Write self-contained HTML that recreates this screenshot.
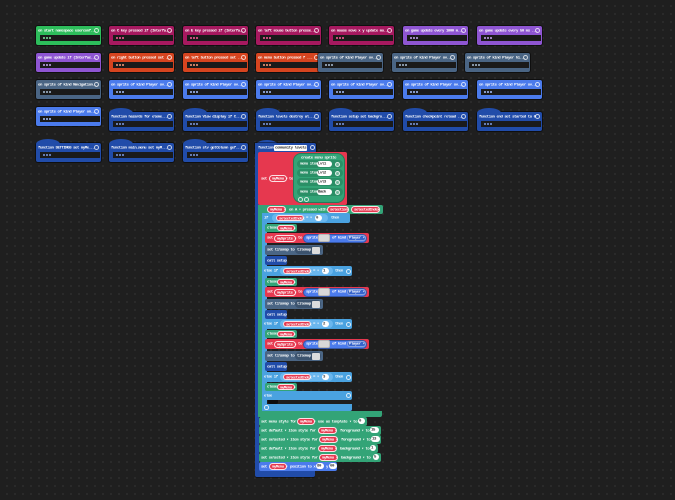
<!DOCTYPE html>
<html><head><meta charset="utf-8"><style>
*{margin:0;padding:0;box-sizing:border-box}
html,body{width:675px;height:500px;overflow:hidden}
body{position:relative;background:#1f1f1f;background-image:radial-gradient(circle,#313131 0.7px,transparent 1px);background-size:8px 8px;background-position:3px 2px;font-family:"Liberation Mono",monospace;font-weight:bold;color:#fff}
div,i,b{position:absolute;font-style:normal;display:block}
.tx{font-size:8px;letter-spacing:-0.9px;line-height:8px;white-space:nowrap;color:#fff;transform:scale(.5);transform-origin:0 0}
.b{width:65px;height:19px;border-radius:2px;box-shadow:0 0 0 1px rgba(0,0,0,.5)}
.b>.tx{left:2px;top:2.6px}
.b>.x{right:2px;top:2px;width:5px;height:5px;border-radius:50%;border:0.8px solid rgba(255,255,255,.75)}
.b>.s{left:4px;right:1px;top:9px;height:6px;background:#1a1a1a}
.b>.s>.d{left:3px;top:2px;width:2px;height:2px;border-radius:50%;background:currentColor;box-shadow:3px 0 0 currentColor,6px 0 0 currentColor}
.b>.h{left:0;top:-4px;width:24px;height:6px;border-radius:12px 12px 0 0/5px 5px 0 0;background:inherit}
.G{background:#2dbd5b;color:#7fe8a0}
.M{background:#a6195f;color:#ff5c9c}
.P{background:#8e55d2;color:#c9a6f5}
.O{background:#d6441f;color:#ff9a7a}
.S{background:#4a6584;color:#a9bdd4}
.B{background:#4b7bec;color:#a6c0ff}
.F{background:#214ca9;color:#7e9be6}
.g{background:#33a477}
.r{background:#e6384f}
.l{background:#4aa2e0}
.pl{border-radius:4px;border:0.6px solid rgba(255,255,255,.85);background:#e6384f}
.pl>.tx{left:1.5px;top:1px}
.wc{background:#fff;border-radius:3.5px;height:6px}
.wc>.tx{color:#333;left:1.2px;top:1px}
.ci{width:5px;height:5px;border-radius:50%;border:0.7px solid rgba(255,255,255,.8)}
</style></head><body>

<!-- Row 1 -->
<div class="b G" style="left:36px;top:26px"><i class="tx">on start namespace userconf...</i><b class="x"></b><div class="s"><b class="d"></b></div></div>
<div class="b M" style="left:109px;top:26px"><i class="tx">on C key pressed if (Interfa...</i><b class="x"></b><div class="s"><b class="d"></b></div></div>
<div class="b M" style="left:183px;top:26px"><i class="tx">on E key pressed if (Interfa...</i><b class="x"></b><div class="s"><b class="d"></b></div></div>
<div class="b M" style="left:256px;top:26px"><i class="tx">on left mouse button presse...</i><b class="x"></b><div class="s"><b class="d"></b></div></div>
<div class="b M" style="left:329px;top:26px"><i class="tx">on mouse move x y update mo...</i><b class="x"></b><div class="s"><b class="d"></b></div></div>
<div class="b P" style="left:403px;top:26px"><i class="tx">on game update every 1000 m...</i><b class="x"></b><div class="s"><b class="d"></b></div></div>
<div class="b P" style="left:477px;top:26px"><i class="tx">on game update every 50 ms ...</i><b class="x"></b><div class="s"><b class="d"></b></div></div>

<!-- Row 2 -->
<div class="b P" style="left:36px;top:53px"><i class="tx">on game update if (Interfac...</i><b class="x"></b><div class="s"><b class="d"></b></div></div>
<div class="b O" style="left:109px;top:53px"><i class="tx">on right button pressed set ...</i><b class="x"></b><div class="s"><b class="d"></b></div></div>
<div class="b O" style="left:183px;top:53px"><i class="tx">on left button pressed set ...</i><b class="x"></b><div class="s"><b class="d"></b></div></div>
<div class="b O" style="left:256px;top:53px"><i class="tx">on menu button pressed f ...</i><b class="x"></b><div class="s"><b class="d"></b></div></div>
<div class="b S" style="left:318px;top:53px"><i class="tx">on sprite of kind Player ov...</i><b class="x"></b><div class="s"><b class="d"></b></div></div>
<div class="b S" style="left:392px;top:53px"><i class="tx">on sprite of kind Player ov...</i><b class="x"></b><div class="s"><b class="d"></b></div></div>
<div class="b S" style="left:465px;top:53px"><i class="tx">on sprite of kind Player hi...</i><b class="x"></b><div class="s"><b class="d"></b></div></div>

<!-- Row 3 -->
<div class="b S" style="left:36px;top:80px"><i class="tx">on sprite of kind Navigation...</i><b class="x"></b><div class="s"><b class="d"></b></div></div>
<div class="b B" style="left:109px;top:80px"><i class="tx">on sprite of kind Player ov...</i><b class="x"></b><div class="s"><b class="d"></b></div></div>
<div class="b B" style="left:183px;top:80px"><i class="tx">on sprite of kind Player ov...</i><b class="x"></b><div class="s"><b class="d"></b></div></div>
<div class="b B" style="left:256px;top:80px"><i class="tx">on sprite of kind Player ov...</i><b class="x"></b><div class="s"><b class="d"></b></div></div>
<div class="b B" style="left:329px;top:80px"><i class="tx">on sprite of kind Player ov...</i><b class="x"></b><div class="s"><b class="d"></b></div></div>
<div class="b B" style="left:403px;top:80px"><i class="tx">on sprite of kind Player ov...</i><b class="x"></b><div class="s"><b class="d"></b></div></div>
<div class="b B" style="left:477px;top:80px"><i class="tx">on sprite of kind Player ov...</i><b class="x"></b><div class="s"><b class="d"></b></div></div>

<!-- Row 4 -->
<div class="b B" style="left:36px;top:107px"><i class="tx">on sprite of kind Player on...</i><b class="x"></b><div class="s"><b class="d"></b></div></div>
<div class="b F" style="left:109px;top:112px"><b class="h"></b><i class="tx">function hazards  for eleme...</i><b class="x"></b><div class="s"><b class="d"></b></div></div>
<div class="b F" style="left:183px;top:112px"><b class="h"></b><i class="tx">function View display  if C...</i><b class="x"></b><div class="s"><b class="d"></b></div></div>
<div class="b F" style="left:256px;top:112px"><b class="h"></b><i class="tx">function levels  destroy al...</i><b class="x"></b><div class="s"><b class="d"></b></div></div>
<div class="b F" style="left:329px;top:112px"><b class="h"></b><i class="tx">function setup  set backgro...</i><b class="x"></b><div class="s"><b class="d"></b></div></div>
<div class="b F" style="left:403px;top:112px"><b class="h"></b><i class="tx">function checkpoint reload ...</i><b class="x"></b><div class="s"><b class="d"></b></div></div>
<div class="b F" style="left:477px;top:112px"><b class="h"></b><i class="tx">function end  set started to 0</i><b class="x"></b><div class="s"><b class="d"></b></div></div>

<!-- Row 5 -->
<div class="b F" style="left:36px;top:143px"><b class="h"></b><i class="tx">function SETTINGS  set myMe...</i><b class="x"></b><div class="s"><b class="d"></b></div></div>
<div class="b F" style="left:109px;top:143px"><b class="h"></b><i class="tx">function main_menu  set myM...</i><b class="x"></b><div class="s"><b class="d"></b></div></div>
<div class="b F" style="left:183px;top:143px"><b class="h"></b><i class="tx">function slv getColumn gef...</i><b class="x"></b><div class="s"><b class="d"></b></div></div>

<!-- ===== Big function: community levels ===== -->
<div style="left:256px;top:139.5px;width:22px;height:6px;border-radius:11px 11px 0 0/5px 5px 0 0;background:#214ca9"></div>
<div style="left:255px;top:143px;width:61px;height:10px;background:#214ca9;border-radius:0 2px 2px 0;box-shadow:0 0 0 1px rgba(0,0,0,.4)"></div>
<i class="tx" style="left:257.5px;top:146px">function</i>
<div style="left:274px;top:144.5px;width:33px;height:6.5px;background:#fff;border-radius:1px"></div>
<i class="tx" style="left:275px;top:145.8px;color:#333">community levels</i>
<div class="ci" style="left:309.5px;top:145px"></div>
<div style="left:255px;top:150px;width:4px;height:322px;background:#214ca9"></div>
<div style="left:255px;top:470px;width:60px;height:7px;background:#214ca9;border-radius:0 0 2px 2px;box-shadow:0 1px 0 rgba(0,0,0,.4)"></div>

<!-- set myMenu to -->
<div class="r" style="left:258px;top:152px;width:89px;height:53px;border-radius:2px"></div>
<i class="tx" style="left:261px;top:177px">set</i>
<div class="pl" style="left:269px;top:175px;width:18px;height:7px"><i class="tx">myMenu ▾</i></div>
<i class="tx" style="left:289px;top:177px">to</i>
<div class="g" style="left:293px;top:153px;width:52px;height:50px;border-radius:8px;border:0.6px solid rgba(0,0,0,.25)"></div>
<i class="tx" style="left:301px;top:155.5px">create menu sprite</i>

<div style="left:297px;top:160px;width:46px;height:8px;border-radius:4px;background:#2a8f66"></div>
<i class="tx" style="left:300px;top:162px">menu item</i>
<div class="wc" style="left:317px;top:161px;width:15px"><i class="tx">Lvl1</i></div>
<div class="ci" style="left:335px;top:161.5px;background:rgba(255,255,255,.35)"></div>

<div style="left:297px;top:169px;width:46px;height:8px;border-radius:4px;background:#2a8f66"></div>
<i class="tx" style="left:300px;top:171px">menu item</i>
<div class="wc" style="left:317px;top:170px;width:15px"><i class="tx">Lvl2</i></div>
<div class="ci" style="left:335px;top:170.5px;background:rgba(255,255,255,.35)"></div>

<div style="left:297px;top:178px;width:46px;height:8px;border-radius:4px;background:#2a8f66"></div>
<i class="tx" style="left:300px;top:180px">menu item</i>
<div class="wc" style="left:317px;top:179px;width:15px"><i class="tx">Lvl3</i></div>
<div class="ci" style="left:335px;top:179.5px;background:rgba(255,255,255,.35)"></div>

<div style="left:297px;top:188px;width:46px;height:8px;border-radius:4px;background:#2a8f66"></div>
<i class="tx" style="left:300px;top:190px">menu item</i>
<div class="wc" style="left:317px;top:189px;width:15px"><i class="tx">Back</i></div>
<div class="ci" style="left:335px;top:189.5px;background:rgba(255,255,255,.35)"></div>

<div class="ci" style="left:298px;top:197px"></div>
<div class="ci" style="left:304px;top:197px"></div>

<!-- on A pressed C-block -->
<div class="g" style="left:258px;top:205px;width:125px;height:8.5px;border-radius:2px"></div>
<div class="g" style="left:258px;top:205px;width:5px;height:212px"></div>
<div class="g" style="left:258px;top:410.5px;width:124px;height:6.5px;border-radius:0 0 2px 2px"></div>
<div class="pl" style="left:267px;top:206px;width:19px;height:6.5px"><i class="tx">myMenu ▾</i></div>
<i class="tx" style="left:289px;top:207.5px">on A ▾ pressed with</i>
<div class="pl" style="left:327px;top:206px;width:22px;height:6.5px"><i class="tx">selection</i></div>
<div class="pl" style="left:351px;top:206px;width:29px;height:6.5px"><i class="tx">selectedIndex</i></div>

<!-- if chain -->
<div class="l" style="left:262px;top:213px;width:4.5px;height:198px"></div>
<div class="l" style="left:262px;top:213px;width:88px;height:9.5px;border-radius:2px"></div>
<i class="tx" style="left:264px;top:216px">if</i>
<div style="left:272px;top:214px;width:56px;height:7.5px;border-radius:4px;background:#6ab7ee"></div>
<div class="pl" style="left:276px;top:215px;width:28px;height:5.5px"><i class="tx" style="top:0.5px">selectedIndex</i></div>
<i class="tx" style="left:306px;top:216px">= ▾</i>
<div class="wc" style="left:315px;top:215px;width:7px"><i class="tx">0</i></div>
<i class="tx" style="left:331px;top:216px">then</i>

<div class="l" style="left:262px;top:266px;width:90px;height:9.5px;border-radius:2px"></div>
<i class="tx" style="left:264px;top:269px">else if</i>
<div style="left:280px;top:267px;width:53px;height:7.5px;border-radius:4px;background:#6ab7ee"></div>
<div class="pl" style="left:283px;top:268px;width:28px;height:5.5px"><i class="tx" style="top:0.5px">selectedIndex</i></div>
<i class="tx" style="left:313px;top:269px">= ▾</i>
<div class="wc" style="left:322px;top:268px;width:7px"><i class="tx">1</i></div>
<i class="tx" style="left:335px;top:269px">then</i>
<div class="ci" style="left:345.5px;top:268.5px"></div>

<div class="l" style="left:262px;top:319px;width:90px;height:9.5px;border-radius:2px"></div>
<i class="tx" style="left:264px;top:322px">else if</i>
<div style="left:280px;top:320px;width:53px;height:7.5px;border-radius:4px;background:#6ab7ee"></div>
<div class="pl" style="left:283px;top:321px;width:28px;height:5.5px"><i class="tx" style="top:0.5px">selectedIndex</i></div>
<i class="tx" style="left:313px;top:322px">= ▾</i>
<div class="wc" style="left:322px;top:321px;width:7px"><i class="tx">2</i></div>
<i class="tx" style="left:335px;top:322px">then</i>
<div class="ci" style="left:345.5px;top:321.5px"></div>

<div class="l" style="left:262px;top:372px;width:90px;height:9.5px;border-radius:2px"></div>
<i class="tx" style="left:264px;top:375px">else if</i>
<div style="left:280px;top:373px;width:53px;height:7.5px;border-radius:4px;background:#6ab7ee"></div>
<div class="pl" style="left:283px;top:374px;width:28px;height:5.5px"><i class="tx" style="top:0.5px">selectedIndex</i></div>
<i class="tx" style="left:313px;top:375px">= ▾</i>
<div class="wc" style="left:322px;top:374px;width:7px"><i class="tx">3</i></div>
<i class="tx" style="left:335px;top:375px">then</i>
<div class="ci" style="left:345.5px;top:374.5px"></div>

<div class="l" style="left:262px;top:391px;width:90px;height:8.5px;border-radius:2px"></div>
<i class="tx" style="left:264px;top:393.5px">else</i>
<div class="ci" style="left:345.5px;top:392.5px"></div>
<div style="left:268px;top:399.5px;width:10px;height:4px;background:#0d0d0d;border-radius:0 0 2px 2px"></div>
<div class="l" style="left:262px;top:404px;width:90px;height:7px;border-radius:0 0 2px 2px"></div>
<div class="ci" style="left:264px;top:405px;width:4.5px;height:4.5px"></div>

<!-- branch 1 (b=224) -->
<div class="g" style="left:265px;top:224px;width:32px;height:8px;border-radius:2px"></div>
<i class="tx" style="left:267px;top:226px">close</i>
<div class="pl" style="left:277px;top:225px;width:18px;height:6px"><i class="tx" style="top:0.6px">myMenu ▾</i></div>
<div class="r" style="left:265px;top:233px;width:104px;height:10px;border-radius:2px"></div>
<i class="tx" style="left:267px;top:236px">set</i>
<div class="pl" style="left:274px;top:234.5px;width:22px;height:7px"><i class="tx">mySprite ▾</i></div>
<i class="tx" style="left:297.5px;top:236px">to</i>
<div style="left:303px;top:233.5px;width:64px;height:9px;border-radius:4.5px;background:#4b7bec;border:0.5px solid rgba(0,0,0,.3)"></div>
<i class="tx" style="left:306px;top:236px">sprite</i>
<div style="left:318px;top:234px;width:12px;height:8px;border-radius:2px;background:#d8d8d8;border:1px solid #b8b8b8"></div>
<i class="tx" style="left:332px;top:236px">of kind</i>
<div style="left:347px;top:235px;width:19px;height:6px;border-radius:3px;background:#3764cc;border:0.5px solid rgba(255,255,255,.4)"></div>
<i class="tx" style="left:348.5px;top:236px">Player ▾</i>
<div class="S" style="left:265px;top:245px;width:58px;height:10px;border-radius:2px"></div>
<i class="tx" style="left:267px;top:248px">set tilemap to</i>
<div style="left:295px;top:246px;width:26px;height:8px;border-radius:4px;background:#3c536e"></div>
<i class="tx" style="left:297px;top:248px">tilemap</i>
<div style="left:311.5px;top:246.5px;width:8px;height:7px;background:#dcdcdc;border-radius:1px"></div>
<div class="F" style="left:265px;top:256px;width:22px;height:8.5px;border-radius:2px"></div>
<i class="tx" style="left:267px;top:258.5px">call setup</i>

<!-- branch 2 (b=278) -->
<div class="g" style="left:265px;top:278px;width:32px;height:8px;border-radius:2px"></div>
<i class="tx" style="left:267px;top:280px">close</i>
<div class="pl" style="left:277px;top:279px;width:18px;height:6px"><i class="tx" style="top:0.6px">myMenu ▾</i></div>
<div class="r" style="left:265px;top:287px;width:104px;height:10px;border-radius:2px"></div>
<i class="tx" style="left:267px;top:290px">set</i>
<div class="pl" style="left:274px;top:288.5px;width:22px;height:7px"><i class="tx">mySprite ▾</i></div>
<i class="tx" style="left:297.5px;top:290px">to</i>
<div style="left:303px;top:287.5px;width:64px;height:9px;border-radius:4.5px;background:#4b7bec;border:0.5px solid rgba(0,0,0,.3)"></div>
<i class="tx" style="left:306px;top:290px">sprite</i>
<div style="left:318px;top:288px;width:12px;height:8px;border-radius:2px;background:#d8d8d8;border:1px solid #b8b8b8"></div>
<i class="tx" style="left:332px;top:290px">of kind</i>
<div style="left:347px;top:289px;width:19px;height:6px;border-radius:3px;background:#3764cc;border:0.5px solid rgba(255,255,255,.4)"></div>
<i class="tx" style="left:348.5px;top:290px">Player ▾</i>
<div class="S" style="left:265px;top:299px;width:58px;height:10px;border-radius:2px"></div>
<i class="tx" style="left:267px;top:302px">set tilemap to</i>
<div style="left:295px;top:300px;width:26px;height:8px;border-radius:4px;background:#3c536e"></div>
<i class="tx" style="left:297px;top:302px">tilemap</i>
<div style="left:311.5px;top:300.5px;width:8px;height:7px;background:#dcdcdc;border-radius:1px"></div>
<div class="F" style="left:265px;top:310px;width:22px;height:8.5px;border-radius:2px"></div>
<i class="tx" style="left:267px;top:312.5px">call setup</i>

<!-- branch 3 (b=330) -->
<div class="g" style="left:265px;top:330px;width:32px;height:8px;border-radius:2px"></div>
<i class="tx" style="left:267px;top:332px">close</i>
<div class="pl" style="left:277px;top:331px;width:18px;height:6px"><i class="tx" style="top:0.6px">myMenu ▾</i></div>
<div class="r" style="left:265px;top:339px;width:104px;height:10px;border-radius:2px"></div>
<i class="tx" style="left:267px;top:342px">set</i>
<div class="pl" style="left:274px;top:340.5px;width:22px;height:7px"><i class="tx">mySprite ▾</i></div>
<i class="tx" style="left:297.5px;top:342px">to</i>
<div style="left:303px;top:339.5px;width:64px;height:9px;border-radius:4.5px;background:#4b7bec;border:0.5px solid rgba(0,0,0,.3)"></div>
<i class="tx" style="left:306px;top:342px">sprite</i>
<div style="left:318px;top:340px;width:12px;height:8px;border-radius:2px;background:#d8d8d8;border:1px solid #b8b8b8"></div>
<i class="tx" style="left:332px;top:342px">of kind</i>
<div style="left:347px;top:341px;width:19px;height:6px;border-radius:3px;background:#3764cc;border:0.5px solid rgba(255,255,255,.4)"></div>
<i class="tx" style="left:348.5px;top:342px">Player ▾</i>
<div class="S" style="left:265px;top:351px;width:58px;height:10px;border-radius:2px"></div>
<i class="tx" style="left:267px;top:354px">set tilemap to</i>
<div style="left:295px;top:352px;width:26px;height:8px;border-radius:4px;background:#3c536e"></div>
<i class="tx" style="left:297px;top:354px">tilemap</i>
<div style="left:311.5px;top:352.5px;width:8px;height:7px;background:#dcdcdc;border-radius:1px"></div>
<div class="F" style="left:265px;top:362px;width:22px;height:8.5px;border-radius:2px"></div>
<i class="tx" style="left:267px;top:364.5px">call setup</i>

<!-- else branch -->
<div class="g" style="left:265px;top:383px;width:32px;height:8px;border-radius:2px"></div>
<i class="tx" style="left:267px;top:385px">close</i>
<div class="pl" style="left:277px;top:384px;width:18px;height:6px"><i class="tx" style="top:0.6px">myMenu ▾</i></div>

<!-- menu style rows -->
<div class="g" style="left:259px;top:417px;width:108px;height:8.5px;border-radius:2px"></div>
<i class="tx" style="left:261px;top:419.5px">set menu style for</i>
<div class="pl" style="left:297px;top:418px;width:18px;height:6.5px"><i class="tx">myMenu ▾</i></div>
<i class="tx" style="left:318px;top:419.5px">use as template ▾ to</i>
<div class="wc" style="left:358px;top:418.2px;width:7px"><i class="tx">0</i></div>

<div class="g" style="left:259px;top:426px;width:122px;height:8.5px;border-radius:2px"></div>
<i class="tx" style="left:261px;top:428.5px">set default ▾ item style for</i>
<div class="pl" style="left:318px;top:427px;width:19px;height:6.5px"><i class="tx">myMenu ▾</i></div>
<i class="tx" style="left:340px;top:428.5px">foreground ▾ to</i>
<div class="wc" style="left:370px;top:427.2px;width:9px"><i class="tx">15</i></div>

<div class="g" style="left:259px;top:435px;width:122px;height:8.5px;border-radius:2px"></div>
<i class="tx" style="left:261px;top:437.5px">set selected ▾ item style for</i>
<div class="pl" style="left:319px;top:436px;width:19px;height:6.5px"><i class="tx">myMenu ▾</i></div>
<i class="tx" style="left:341px;top:437.5px">foreground ▾ to</i>
<div class="wc" style="left:371px;top:436.2px;width:9px"><i class="tx">13</i></div>

<div class="g" style="left:259px;top:444px;width:119px;height:8.5px;border-radius:2px"></div>
<i class="tx" style="left:261px;top:446.5px">set default ▾ item style for</i>
<div class="pl" style="left:318px;top:445px;width:19px;height:6.5px"><i class="tx">myMenu ▾</i></div>
<i class="tx" style="left:340px;top:446.5px">background ▾ to</i>
<div class="wc" style="left:370px;top:445.2px;width:6px"><i class="tx">1</i></div>

<div class="g" style="left:259px;top:453px;width:122px;height:8.5px;border-radius:2px"></div>
<i class="tx" style="left:261px;top:455.5px">set selected ▾ item style for</i>
<div class="pl" style="left:319px;top:454px;width:19px;height:6.5px"><i class="tx">myMenu ▾</i></div>
<i class="tx" style="left:341px;top:455.5px">background ▾ to</i>
<div class="wc" style="left:373px;top:454.2px;width:6px"><i class="tx">5</i></div>

<div class="B" style="left:259px;top:462px;width:78px;height:8.5px;border-radius:2px"></div>
<i class="tx" style="left:261px;top:464.5px">set</i>
<div class="pl" style="left:269px;top:463px;width:18px;height:6.5px"><i class="tx">myMenu ▾</i></div>
<i class="tx" style="left:290px;top:464.5px">position to x</i>
<div class="wc" style="left:316px;top:463.2px;width:8px"><i class="tx">80</i></div>
<i class="tx" style="left:326px;top:464.5px">y</i>
<div class="wc" style="left:329px;top:463.2px;width:8px"><i class="tx">60</i></div>

</body></html>
